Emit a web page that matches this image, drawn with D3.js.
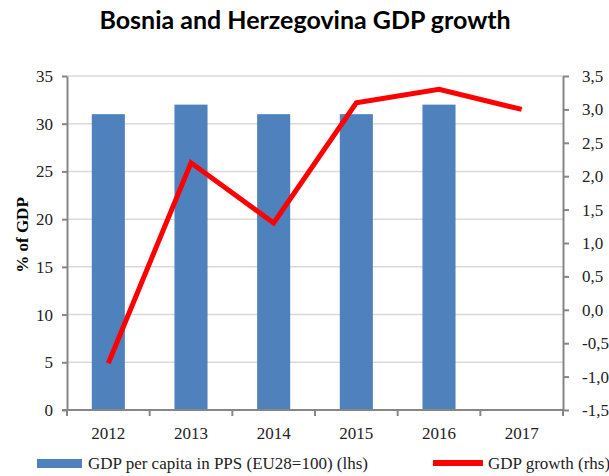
<!DOCTYPE html>
<html>
<head>
<meta charset="utf-8">
<script src="https://cdn.jsdelivr.net/npm/d3@7"></script>
<style>
  body { margin: 0; background: #fff; }
  svg { display: block; }
  svg text { font-family: "Liberation Serif", "Times New Roman", serif; }
  svg text.title { font-family: Lato, "Open Sans", sans-serif; }
</style>
</head>
<body>
<svg id="chart" width="609" height="476"></svg>
<script>
// GDP per capita (PPS, EU28=100) on the left axis, real GDP growth on the right axis
const years = ["2012", "2013", "2014", "2015", "2016", "2017"];
const gdpPerCapita = [31, 32, 31, 31, 32, null];
const gdpGrowth = [-0.8, 2.2, 1.3, 3.1, 3.3, 3.0];
const leftTicks = [0, 5, 10, 15, 20, 25, 30, 35];
const rightTicks = [-1.5, -1.0, -0.5, 0.0, 0.5, 1.0, 1.5, 2.0, 2.5, 3.0, 3.5];

const svg = d3.select("#chart");
const m = { left: 67, right: 563, top: 76, bottom: 410 };

const x = d3.scaleBand().domain(years).range([m.left, m.right])
  .paddingInner(0.6).paddingOuter(0.3);
const yL = d3.scaleLinear().domain([0, 35]).range([m.bottom, m.top]);
const yR = d3.scaleLinear().domain([-1.5, 3.5]).range([m.bottom, m.top]);

// Title
svg.append("text")
  .attr("class", "title")
  .attr("x", 305).attr("y", 29)
  .attr("text-anchor", "middle")
  .style("font-weight", "bold")
  .style("font-size", "25px")
  .text("Bosnia and Herzegovina GDP growth");

// Horizontal gridlines at left-axis ticks
svg.append("g").selectAll("line").data(leftTicks.filter(d => d > 0)).join("line")
  .attr("x1", m.left).attr("x2", m.right)
  .attr("y1", d => yL(d)).attr("y2", d => yL(d))
  .attr("stroke", "#d9d9d9").attr("stroke-width", 1.5);

// Bars
svg.append("g").selectAll("rect")
  .data(years.map((yr, i) => ({ yr, v: gdpPerCapita[i] })).filter(d => d.v != null))
  .join("rect")
  .attr("x", d => x(d.yr)).attr("width", x.bandwidth())
  .attr("y", d => yL(d.v)).attr("height", d => yL(0) - yL(d.v))
  .attr("fill", "#4f81bd");

// Growth line
const line = d3.line()
  .x((d, i) => x(years[i]) + x.bandwidth() / 2)
  .y(d => yR(d));
svg.append("path")
  .datum(gdpGrowth)
  .attr("d", line)
  .attr("fill", "none")
  .attr("stroke", "#ff0000")
  .attr("stroke-width", 5)
  .attr("stroke-linejoin", "miter");

// Axes
function styleAxis(g) {
  g.attr("font-family", null).attr("font-size", null);
  g.selectAll("path.domain, line").attr("stroke", "#868686").attr("stroke-width", 2);
  g.selectAll("text").style("font-size", "17px").attr("fill", "#222");
}

const axL = d3.axisLeft(yL).tickValues(leftTicks).tickSize(5).tickSizeOuter(0).tickPadding(9);
svg.append("g").attr("transform", `translate(${m.left},0)`).call(axL).call(styleAxis);

const fmtR = d => d3.format(".1f")(d).replace(".", ",").replace("\u2212", "-");
const axR = d3.axisRight(yR).tickValues(rightTicks).tickFormat(fmtR)
  .tickSize(6).tickSizeOuter(0).tickPadding(13);
svg.append("g").attr("transform", `translate(${m.right},0)`).call(axR).call(styleAxis)
  .selectAll("text").attr("text-anchor", "start");

// Category axis with ticks at band boundaries
const gx = svg.append("g").attr("transform", `translate(0,${m.bottom})`);
gx.append("line").attr("x1", m.left - 5).attr("x2", m.right)
  .attr("stroke", "#868686").attr("stroke-width", 2);
const bounds = years.map(yr => x(yr) - x.step() * x.paddingInner() / 2).concat([m.right]);
gx.selectAll("line.tk").data(bounds).join("line").attr("class", "tk")
  .attr("x1", d => d).attr("x2", d => d).attr("y1", 0).attr("y2", 6)
  .attr("stroke", "#868686").attr("stroke-width", 2);
gx.selectAll("text").data(years).join("text")
  .attr("x", d => x(d) + x.bandwidth() / 2).attr("y", 29)
  .attr("text-anchor", "middle")
  .style("font-size", "17px").attr("fill", "#222")
  .text(d => d);

// Left axis title
svg.append("text")
  .attr("transform", "translate(28,235) rotate(-90)")
  .attr("text-anchor", "middle")
  .style("font-weight", "bold").style("font-size", "17px")
  .text("% of GDP");

// Legend
const lg = svg.append("g").attr("transform", "translate(0,463)");
lg.append("rect").attr("x", 37).attr("y", -4).attr("width", 45).attr("height", 9).attr("fill", "#4f81bd");
lg.append("text").attr("x", 88).attr("y", 6)
  .style("font-size", "17px").attr("fill", "#222")
  .text("GDP per capita in PPS (EU28=100) (lhs)");
lg.append("rect").attr("x", 433).attr("y", -3).attr("width", 50).attr("height", 6).attr("fill", "#ff0000");
lg.append("text").attr("x", 488).attr("y", 6)
  .style("font-size", "17px").attr("fill", "#222")
  .text("GDP growth (rhs)");
</script>
</body>
</html>
